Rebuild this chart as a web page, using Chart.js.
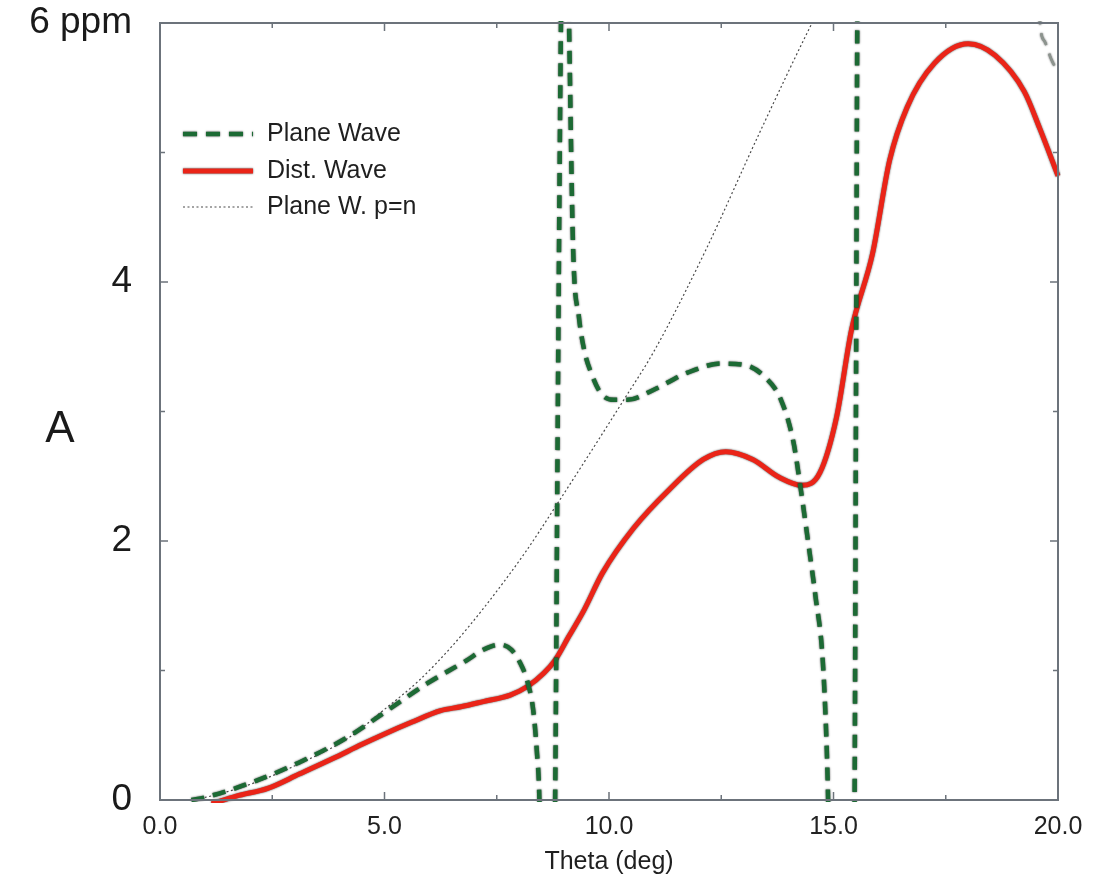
<!DOCTYPE html>
<html>
<head>
<meta charset="utf-8">
<script src="https://cdn.jsdelivr.net/npm/chart.js@4.4.1/dist/chart.umd.min.js"></script>
<style>
  html, body { margin: 0; padding: 0; background: #ffffff; }
  canvas { display: block; }
</style>
</head>
<body>
<canvas id="c" width="1098" height="877"></canvas>
<script>
// Plane Wave amplitude (with its steep excursions past the axis limits)
const planeTheta = [0.7, 1.0, 2.0, 3.1, 4.2, 5.1, 5.95, 6.84, 7.2, 7.57, 7.83, 8.02, 8.17, 8.31, 8.39, 8.45, 8.48,
  8.76, 8.8, 8.86, 8.93, 8.96,
  9.08, 9.11, 9.2, 9.33, 9.45, 9.6, 9.82, 10.11, 10.41, 11.01, 11.75, 12.5, 13.01, 13.46, 13.83, 14.11, 14.25,
  14.46, 14.6, 14.76, 14.85, 14.88, 14.91,
  15.44, 15.47, 15.5, 15.53, 15.55,
  19.56, 19.6, 19.7, 19.85, 20.0];
const planeA = [0.0, 0.02, 0.13, 0.29, 0.49, 0.70, 0.90, 1.08, 1.16, 1.20, 1.16, 1.06, 0.93, 0.70, 0.39, 0.0, -0.6,
  -0.6, 0.0, 3.0, 6.0, 6.6,
  6.6, 6.0, 4.27, 3.73, 3.47, 3.30, 3.14, 3.09, 3.09, 3.17, 3.30, 3.37, 3.36, 3.27, 3.09, 2.76, 2.45,
  1.93, 1.57, 1.08, 0.39, 0.0, -0.6,
  -0.6, 0.0, 3.0, 6.0, 6.6,
  6.6, 6.0, 5.86, 5.72, 5.62];

// Distorted Wave amplitude
const distTheta = [1.15, 1.7, 2.4, 3.1, 3.85, 4.5, 5.0, 5.6, 6.25, 6.7, 7.2, 7.8, 8.2, 8.55, 8.8, 9.1, 9.45, 9.85,
  10.55, 11.35, 12.1, 12.6, 13.2, 13.8, 14.3, 14.7, 15.07, 15.4, 15.87, 16.25, 16.64, 17.25, 18.0, 18.6, 19.25,
  19.6, 20.0];
const distA = [-0.03, 0.03, 0.09, 0.20, 0.32, 0.43, 0.51, 0.60, 0.69, 0.72, 0.76, 0.81, 0.88, 0.98, 1.08, 1.26,
  1.47, 1.75, 2.10, 2.40, 2.63, 2.69, 2.63, 2.49, 2.43, 2.53, 2.96, 3.63, 4.22, 4.94, 5.35, 5.69, 5.84, 5.75,
  5.47, 5.18, 4.82];

// Plane Wave with p = n
const pnTheta = [0.6, 1.0, 2.0, 3.1, 4.2, 5.0, 5.76, 6.51, 7.25, 8.15, 8.76, 10.33, 11.01, 12.16, 13.35, 14.55, 14.7];
const pnA = [0.0, 0.02, 0.12, 0.28, 0.48, 0.70, 0.92, 1.19, 1.50, 1.92, 2.24, 3.09, 3.47, 4.25, 5.15, 6.02, 6.12];

const seriesNames = ['Plane Wave', 'Dist. Wave', 'Plane W. p=n'];

const xTickValues = [0, 5, 10, 15, 20];
const xTickLabels = ['0.0', '5.0', '10.0', '15.0', '20.0'];
const xMinorTicks = [2.5, 7.5, 12.5, 17.5];
const yTickValues = [0, 2, 4, 6];
const yTickLabels = ['0', '2', '4', '6 ppm'];
const yMinorTicks = [1, 3, 5];
const xTitle = 'Theta (deg)';
const yTitle = 'A';

const FONT = '"Liberation Sans", Arial, Helvetica, sans-serif';
const pts = (xs, ys) => xs.map((x, i) => ({ x: x, y: ys[i] }));

// Frame, inward tick marks, upright y title and the in-plot legend
const decorations = {
  id: 'decorations',
  beforeDatasetDraw(chart, args) {
    if (args.index === 0 || args.index === 1) {
      const ctx = chart.ctx;
      ctx.save();
      ctx.shadowColor = 'rgba(0,0,0,0.75)';
      ctx.shadowBlur = 2;
    }
  },
  afterDatasetDraw(chart, args) {
    if (args.index === 0 || args.index === 1) chart.ctx.restore();
  },
  afterDatasetsDraw(chart) {
    const ctx = chart.ctx;
    const a = chart.chartArea;
    const xs = chart.scales.x, ys = chart.scales.y;
    ctx.save();
    ctx.strokeStyle = '#6c737b';
    ctx.lineWidth = 2;
    ctx.strokeRect(a.left, a.top, a.right - a.left, a.bottom - a.top);

    ctx.lineWidth = 1.5;
    ctx.strokeStyle = '#6c737b';
    const xt = xTickValues.slice(1, -1).map(v => [v, 8]).concat(xMinorTicks.map(v => [v, 5]));
    xt.forEach(([v, len]) => {
      const p = xs.getPixelForValue(v);
      ctx.beginPath();
      ctx.moveTo(p, a.bottom); ctx.lineTo(p, a.bottom - len);
      ctx.moveTo(p, a.top); ctx.lineTo(p, a.top + len);
      ctx.stroke();
    });
    const yt = yTickValues.slice(1, -1).map(v => [v, 8]).concat(yMinorTicks.map(v => [v, 5]));
    yt.forEach(([v, len]) => {
      const p = ys.getPixelForValue(v);
      ctx.beginPath();
      ctx.moveTo(a.left, p); ctx.lineTo(a.left + len, p);
      ctx.moveTo(a.right, p); ctx.lineTo(a.right - len, p);
      ctx.stroke();
    });

    // upright axis title
    ctx.fillStyle = '#1a1a1a';
    ctx.font = '44px ' + FONT;
    ctx.textAlign = 'center';
    ctx.textBaseline = 'middle';
    ctx.fillText(yTitle, 60, 430);

    // legend
    const lx0 = 183, lx1 = 253, tx = 267;
    const rows = [134, 171, 207];
    chart.data.datasets.forEach((ds, i) => {
      const y = rows[i];
      ctx.save();
      if (i < 2) { ctx.shadowColor = 'rgba(0,0,0,0.75)'; ctx.shadowBlur = 2; }
      ctx.strokeStyle = ds.borderColor;
      ctx.lineWidth = i === 2 ? 1.2 : ds.borderWidth;
      ctx.setLineDash(i === 0 ? [14, 9] : (ds.borderDash || []));
      ctx.lineCap = 'butt';
      ctx.beginPath();
      ctx.moveTo(lx0, y); ctx.lineTo(lx1, y);
      ctx.stroke();
      ctx.restore();
      ctx.fillStyle = '#1f1f1f';
      ctx.font = '25px ' + FONT;
      ctx.textAlign = 'left';
      ctx.textBaseline = 'middle';
      ctx.fillText(ds.label, tx, y);
    });
    ctx.restore();
  }
};

new Chart(document.getElementById('c'), {
  type: 'line',
  data: {
    datasets: [
      {
        label: seriesNames[0],
        data: pts(planeTheta, planeA),
        borderColor: '#1c6a34',
        borderWidth: 4.5,
        borderDash: [13, 9],
        cubicInterpolationMode: 'monotone',
        pointRadius: 0,
        clip: 2,
        segment: {
          borderColor: ctx => ctx.p0.parsed.x >= 19.5 ? '#8c948e' : undefined,
          borderWidth: ctx => ctx.p0.parsed.x >= 19.5 ? 2.5 : undefined
        }
      },
      {
        label: seriesNames[1],
        data: pts(distTheta, distA),
        borderColor: '#ea2418',
        borderWidth: 5,
        cubicInterpolationMode: 'monotone',
        pointRadius: 0,
        clip: 3
      },
      {
        label: seriesNames[2],
        data: pts(pnTheta, pnA),
        borderColor: '#4a4a4a',
        borderWidth: 1.2,
        borderDash: [2, 2.5],
        cubicInterpolationMode: 'monotone',
        pointRadius: 0,
        clip: 1
      }
    ]
  },
  options: {
    responsive: false,
    devicePixelRatio: 1,
    animation: false,
    layout: { padding: { top: 23, right: 40, left: 0, bottom: 0 } },
    plugins: { legend: { display: false }, tooltip: { enabled: false } },
    scales: {
      x: {
        type: 'linear',
        min: 0, max: 20,
        grid: { display: false, drawTicks: false },
        border: { display: false },
        afterBuildTicks: s => { s.ticks = xTickValues.map(v => ({ value: v })); },
        afterFit: s => { s.height = 77; s.paddingLeft = 0; s.paddingRight = 0; },
        ticks: {
          autoSkip: false,
          maxRotation: 0,
          padding: 12,
          color: '#222',
          font: { family: FONT, size: 25 },
          callback: v => xTickLabels[xTickValues.indexOf(v)] ?? ''
        },
        title: {
          display: true,
          text: xTitle,
          color: '#1f1f1f',
          font: { family: FONT, size: 25 },
          padding: { top: 0, bottom: 0 }
        }
      },
      y: {
        type: 'linear',
        min: 0, max: 6,
        grid: { display: false, drawTicks: false },
        border: { display: false },
        afterBuildTicks: s => { s.ticks = yTickValues.map(v => ({ value: v })); },
        afterFit: s => { s.width = 160; s.paddingTop = 0; s.paddingBottom = 0; },
        ticks: {
          autoSkip: false,
          padding: 28,
          color: '#1a1a1a',
          font: { family: FONT, size: 37 },
          callback: v => yTickLabels[yTickValues.indexOf(v)] ?? ''
        }
      }
    }
  },
  plugins: [decorations]
});
</script>
</body>
</html>
